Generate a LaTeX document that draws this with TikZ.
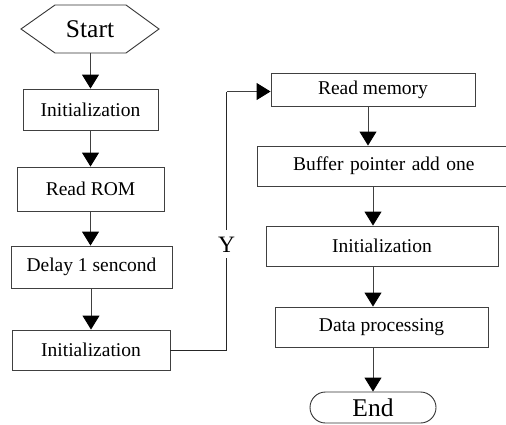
\documentclass[tikz,border=0pt]{standalone}
\usepackage{fontspec}
\setmainfont{Liberation Serif}
\usetikzlibrary{arrows.meta,shapes.misc,calc}
\tikzset{
  x=1pt,y=-1pt,
  box/.style={draw=black!75,line width=0.9pt,inner sep=0pt,font=\fontsize{19.5}{22}\selectfont},
  term/.style={font=\fontsize{25.5}{28}\selectfont,inner sep=0pt},
  arr/.style={draw=black!75,line width=0.9pt,-{Triangle[width=17pt,length=14pt,color=black]}},
  conn/.style={draw=black!85,line width=0.9pt},
}
\begin{document}
\begin{tikzpicture}
\useasboundingbox (0,0) rectangle (506,424);
% left column
\node[term,minimum width=138pt,minimum height=48pt] (start) at (90,29) {Start};
\draw[black!80,line width=0.9pt] (21,29) -- (55,5) -- (126,5) -- (159,29) -- (126,53) -- (55,53) -- cycle;
\node[box,minimum width=135pt,minimum height=41pt] (i1) at (90.5,109.5) {Initialization};
\node[box,minimum width=147pt,minimum height=44pt] (rom) at (90.5,189) {Read ROM};
\node[box,minimum width=161pt,minimum height=42pt] (dl) at (91.5,267) {Delay 1 sencond};
\node[box,minimum width=158pt,minimum height=40pt] (i2) at (91,350) {Initialization};
% right column
\node[box,minimum width=204pt,minimum height=33pt] (rm) at (373,89.5) {Read memory};
\node[box,minimum width=254pt,minimum height=40pt,text width=254pt,align=left] (buf) at (384,166) {\hspace*{36pt}Buffer pointer add one};
\node[box,minimum width=232pt,minimum height=40pt] (i3) at (382,246) {Initialization};
\node[box,minimum width=213pt,minimum height=40pt] (dp) at (381.5,327) {Data processing};
\node[term,draw=black!80,line width=0.9pt,rounded rectangle,minimum width=126pt,minimum height=31pt] (en) at (373,407.5) {End};
% connectors
\draw[arr] (start.south -| i1.north) -- (i1.north);
\draw[arr] (i1.south) -- (i1.south |- rom.north);
\draw[arr] (rom.south) -- (rom.south |- dl.north);
\draw[arr] (dl.south -| i2.north) -- (i2.north);
\coordinate (c1) at (226.5,350);
\coordinate (c2) at (226.5,91.5);
\draw[conn] (i2.east) -- (c1) -- (c2);
\draw[arr] (c2) -- (c2 -| rm.west);
\node[fill=white,font=\fontsize{23.5}{26}\selectfont,inner xsep=1pt,inner ysep=6pt,text height=16pt,text depth=0pt] (ylab) at (226.5,244) {Y};
\draw[arr] ([xshift=-5pt]rm.south) -- ([xshift=-5pt]rm.south |- buf.north);
\draw[arr] (buf.south -| en) -- (i3.north -| en);
\draw[arr] (i3.south -| en) -- (dp.north -| en);
\draw[arr] (dp.south -| en) -- (en.north);
\end{tikzpicture}
\end{document}
